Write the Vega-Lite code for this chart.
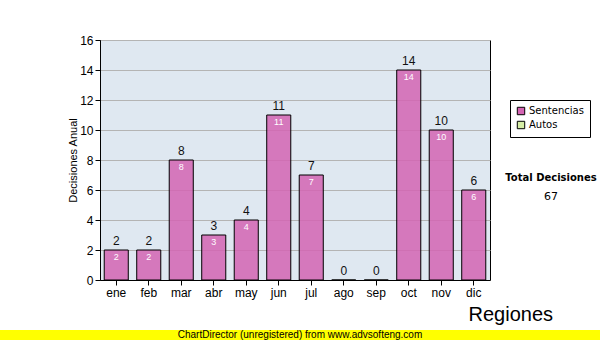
{
  "$schema": "https://vega.github.io/schema/vega-lite/v6.json",
  "padding": {"top": 33, "left": -10, "right": 0, "bottom": 0},
  "background": "white",
  "spacing": 50,
  "bounds": "flush",
  "center": true,
  "config": {
    "font": "Liberation Sans",
    "axis": {"domainColor": "black", "tickColor": "black", "labelColor": "black", "titleColor": "black"}
  },
  "vconcat": [
    {
      "width": 390,
      "height": 240,
      "view": {"fill": "#dfe8f1", "stroke": "black", "strokeWidth": 1},
      "title": {
        "text": "Total Decisiones",
        "subtitle": "67",
        "anchor": "start",
        "frame": "group",
        "align": "center",
        "dx": 451,
        "dy": 172,
        "font": "DejaVu Sans",
        "fontSize": 10,
        "fontWeight": "bold",
        "color": "black",
        "subtitleFont": "DejaVu Sans",
        "subtitleFontSize": 11,
        "subtitleColor": "black",
        "subtitlePadding": 8
      },
      "data": {
        "values": [
          {"mes": "ene", "valor": 2, "tipo": "Sentencias"},
          {"mes": "feb", "valor": 2, "tipo": "Sentencias"},
          {"mes": "mar", "valor": 8, "tipo": "Sentencias"},
          {"mes": "abr", "valor": 3, "tipo": "Sentencias"},
          {"mes": "may", "valor": 4, "tipo": "Sentencias"},
          {"mes": "jun", "valor": 11, "tipo": "Sentencias"},
          {"mes": "jul", "valor": 7, "tipo": "Sentencias"},
          {"mes": "ago", "valor": 0, "tipo": "Sentencias"},
          {"mes": "sep", "valor": 0, "tipo": "Sentencias"},
          {"mes": "oct", "valor": 14, "tipo": "Sentencias"},
          {"mes": "nov", "valor": 10, "tipo": "Sentencias"},
          {"mes": "dic", "valor": 6, "tipo": "Sentencias"}
        ]
      },
      "encoding": {
        "x": {
          "field": "mes",
          "type": "nominal",
          "sort": null,
          "scale": {"paddingInner": 0.26, "paddingOuter": 0.13},
          "axis": {
            "labelAngle": 0,
            "labelFontSize": 12,
            "labelPadding": 2,
            "tickSize": 5,
            "title": "Regiones",
            "titleX": 368,
            "titleY": 24,
            "titleAlign": "left",
            "titleBaseline": "top",
            "titleFontSize": 20,
            "titleFontWeight": "normal"
          }
        },
        "y": {
          "field": "valor",
          "type": "quantitative",
          "scale": {"domain": [0, 16], "nice": false},
          "axis": {
            "values": [0, 2, 4, 6, 8, 10, 12, 14, 16],
            "title": "Decisiones Anual",
            "titleFontSize": 11,
            "titleFontWeight": "normal",
            "titlePadding": 1,
            "labelFontSize": 12,
            "tickSize": 5,
            "gridColor": "#b4b4b4",
            "gridOpacity": 1
          }
        }
      },
      "layer": [
        {
          "mark": {"type": "bar", "stroke": "black", "strokeWidth": 1, "fillOpacity": 0.85},
          "encoding": {
            "color": {
              "field": "tipo",
              "type": "nominal",
              "scale": {"domain": ["Sentencias", "Autos"], "range": ["#d464b3", "#d6eea6"]},
              "legend": {
                "title": null,
                "orient": "none",
                "legendX": 520,
                "legendY": 60,
                "strokeColor": "black",
                "fillColor": "white",
                "padding": 6,
                "symbolType": "square",
                "symbolSize": 55,
                "symbolStrokeColor": "black",
                "symbolStrokeWidth": 1,
                "symbolOpacity": 1,
                "labelFont": "DejaVu Sans",
                "labelFontSize": 10,
                "labelColor": "black",
                "rowPadding": 2,
                "labelOffset": 3
              }
            }
          }
        },
        {
          "mark": {"type": "text", "baseline": "bottom", "dy": -2, "fontSize": 12, "color": "#111"},
          "encoding": {"text": {"field": "valor", "type": "quantitative"}}
        },
        {
          "transform": [{"filter": "datum.valor > 0"}],
          "mark": {"type": "text", "baseline": "top", "dy": 3, "fontSize": 9, "color": "white"},
          "encoding": {"text": {"field": "valor", "type": "quantitative"}}
        }
      ]
    },
    {
      "width": 610,
      "height": 10,
      "view": {"fill": "#ffff00", "stroke": null},
      "data": {"values": [{"t": "ChartDirector (unregistered) from www.advsofteng.com"}]},
      "mark": {"type": "text", "fontSize": 10, "font": "Liberation Sans", "color": "black", "baseline": "middle", "dx": 5},
      "encoding": {"text": {"field": "t", "type": "nominal"}}
    }
  ]
}
